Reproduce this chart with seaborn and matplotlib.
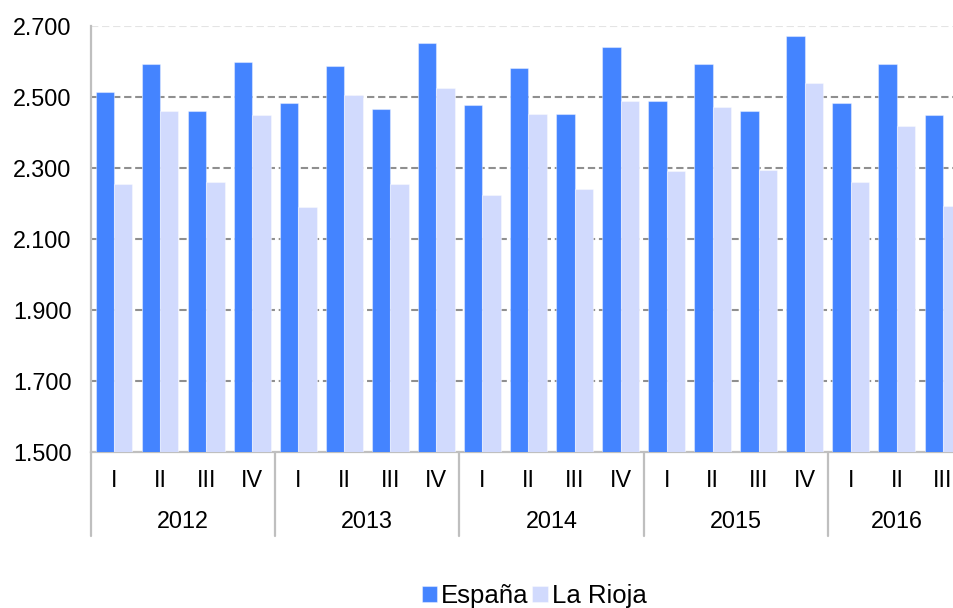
import numpy as np
import pandas as pd
import matplotlib
matplotlib.use("Agg")
import matplotlib.pyplot as plt
import seaborn as sns

# datos trimestrales (euros)
years = ['2012', '2013', '2014', '2015', '2016']
quarters = ['I', 'II', 'III', 'IV']
n_quarters = [4, 4, 4, 4, 3]

espana = [2514, 2593, 2460, 2599, 2484, 2587, 2465, 2653, 2477, 2581,
          2453, 2641, 2490, 2593, 2460, 2673, 2484, 2593, 2448]
rioja = [2255, 2460, 2260, 2448, 2189, 2507, 2254, 2526, 2223, 2453,
         2242, 2490, 2291, 2471, 2295, 2539, 2260, 2417, 2193]

series = ['España', 'La Rioja']
colors = {'España': '#4484FF', 'La Rioja': '#D1DAFD'}

# etiquetas de periodo
periodo = []
q_labels = []
for y, n in zip(years, n_quarters):
    for q in quarters[:n]:
        periodo.append(y + ' ' + q)
        q_labels.append(q)

df = pd.DataFrame({'periodo': periodo * 2,
                   'serie': ['España'] * len(espana) + ['La Rioja'] * len(rioja),
                   'valor': espana + rioja})

sns.set_style('white')
plt.rcParams['font.family'] = ['Liberation Sans', 'DejaVu Sans']
plt.rcParams['text.color'] = 'black'

fs = 16.8

fig = plt.figure(figsize=(9.54, 6.08), dpi=100)
ax = fig.add_axes([91 / 954, 156 / 608, 863 / 954, 426 / 608])

sns.barplot(data=df, x='periodo', y='valor', hue='serie', order=periodo,
            hue_order=series, palette=colors, saturation=1, width=0.8,
            edgecolor=(1, 1, 1, 0.4), linewidth=0.8, ax=ax, zorder=3)

ax.set_ylim(1500, 2700)
ax.set_xlim(-0.5, 18.24)
yt = np.arange(1500, 2701, 200)
ax.set_yticks(yt)
ax.set_yticklabels([f'{v:,.0f}'.replace(',', '.') for v in yt], fontsize=fs)

# rejilla discontinua
for v in yt[1:-1]:
    ax.axhline(v, color='#8f8f8f', lw=1.5, ls=(0, (3.5, 1.8)), zorder=1)
ax.axhline(2700, color='#e4e4e4', lw=1.5, ls=(0, (3.5, 1.8)), zorder=1)

for s in ['top', 'right']:
    ax.spines[s].set_visible(False)
for s in ['left', 'bottom']:
    ax.spines[s].set_color('#bfbfbf')
    ax.spines[s].set_linewidth(1.6)
ax.tick_params(axis='y', length=6, width=1.5, color='#bfbfbf', pad=8, labelcolor='black')
ax.tick_params(axis='x', length=0)
ax.set_xticks([])
ax.set_xlabel('')
ax.set_ylabel('')

# trimestres y años debajo del eje
tr = ax.get_xaxis_transform()
for i, q in enumerate(q_labels):
    ax.text(i, -0.066, q, transform=tr, ha='center', va='center', fontsize=fs, color='black')
start = 0
for y, n in zip(years, n_quarters):
    xc = start + (n - 1) / 2
    ax.text(xc, -0.164, y, transform=tr, ha='center', va='center', fontsize=fs, color='black')
    ax.plot([start - 0.5, start - 0.5], [0, -0.197], transform=tr,
            color='#bfbfbf', lw=1.6, clip_on=False)
    start += n

# leyenda abajo
handles, labels = ax.get_legend_handles_labels()
ax.get_legend().remove()
leg = fig.legend(handles, labels, loc='center', bbox_to_anchor=(534 / 954, 1 - 596 / 608),
                 ncol=2, frameon=False, fontsize=18.5, handlelength=0.6, handleheight=0.6,
                 handletextpad=0.15, columnspacing=0.15, borderaxespad=0)
for t in leg.get_texts():
    t.set_color('black')

plt.savefig('out.png', dpi=100)
plt.close('all')
